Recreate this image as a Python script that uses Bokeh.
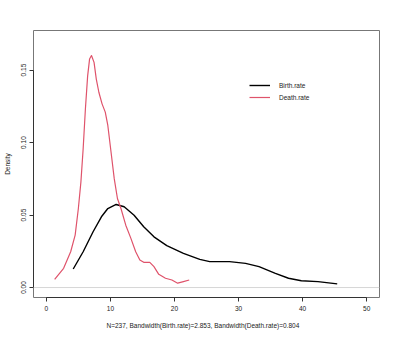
from bokeh.plotting import figure
from bokeh.models import Range1d, FixedTicker, Span, Legend, LegendItem
from bokeh.embed import file_html
from bokeh.resources import INLINE

# Density curves
birth_x = [4.2, 5.75, 7.3, 8.6, 9.6, 10.9, 12.15, 13.7, 15.2, 16.8, 18.8, 21.4,
           23.95, 25.5, 28.6, 31.1, 33.2, 35.75, 37.8, 39.8, 42.4, 45.4]
birth_y = [0.0128, 0.0247, 0.0385, 0.0488, 0.0545, 0.0573, 0.0557, 0.0499, 0.0419,
           0.035, 0.0289, 0.0236, 0.0194, 0.0179, 0.0179, 0.0167, 0.0144, 0.0098,
           0.0064, 0.0047, 0.0041, 0.0025]

death_x = [1.3, 2.7, 3.8, 4.5, 5.0, 5.4, 5.75, 6.1, 6.45, 6.75, 7.05, 7.45, 7.8,
           8.2, 8.7, 9.2, 9.6, 10.1, 10.6, 11.1, 11.65, 12.4, 13.2, 13.95, 14.6,
           15.2, 16.15, 16.8, 17.55, 18.6, 19.6, 20.5, 21.4, 22.3]
death_y = [0.0057, 0.0133, 0.0247, 0.0362, 0.0545, 0.0729, 0.0957, 0.1232, 0.146,
           0.1576, 0.160, 0.1553, 0.1438, 0.1347, 0.1267, 0.121, 0.1118, 0.0935,
           0.0751, 0.0614, 0.0545, 0.043, 0.0339, 0.0247, 0.019, 0.0174, 0.0174,
           0.0144, 0.0091, 0.0064, 0.0052, 0.003, 0.0041, 0.0052]

x_ticks = [0, 10, 20, 30, 40, 50]
y_ticks = [0.0, 0.05, 0.10, 0.15]
y_tick_labels = ["0.00", "0.05", "0.10", "0.15"]
series_names = ["Birth.rate", "Death.rate"]
x_label = "N=237,   Bandwidth(Birth.rate)=2.853,   Bandwidth(Death.rate)=0.804"
y_label = "Density"

FONT = "Liberation Sans"
FS = "6.5px"

p = figure(width=384, height=331, output_backend="svg", toolbar_location=None,
           x_range=Range1d(-2, 52), y_range=Range1d(-0.00687, 0.1773),
           min_border_left=28, min_border_top=30, min_border_right=5,
           min_border_bottom=33)
p.grid.visible = False
p.outline_line_color = "#777777"
p.outline_line_width = 1
p.background_fill_color = "white"
p.border_fill_color = "white"

p.add_layout(Span(location=0, dimension="width", line_color="#d6d6d6", line_width=1))

r_birth = p.line(birth_x, birth_y, line_color="black", line_width=1.4,
                 line_join="round")
r_death = p.line(death_x, death_y, line_color="#DF536B", line_width=1.2,
                 line_join="round")

for ax in (p.xaxis[0], p.yaxis[0]):
    ax.major_tick_out = 4
    ax.major_tick_in = 0
    ax.minor_tick_line_color = None
    ax.axis_line_color = "#333333"
    ax.major_tick_line_color = "#333333"
    ax.major_label_text_font = FONT
    ax.major_label_text_font_size = FS
    ax.major_label_text_color = "#222222"
    ax.axis_label_text_font = FONT
    ax.axis_label_text_font_size = FS
    ax.axis_label_text_font_style = "normal"
    ax.axis_label_text_color = "#222222"

p.xaxis.ticker = FixedTicker(ticks=x_ticks)
p.xaxis.bounds = (x_ticks[0], x_ticks[-1])
p.xaxis.major_label_standoff = 4
p.xaxis.axis_label = x_label
p.xaxis.axis_label_standoff = 8

p.yaxis.ticker = FixedTicker(ticks=y_ticks)
p.yaxis.bounds = (y_ticks[0], y_ticks[-1])
p.yaxis.major_label_overrides = {t: l for t, l in zip(y_ticks, y_tick_labels)}
p.yaxis.major_label_orientation = "vertical"
p.yaxis.major_label_standoff = 3
p.yaxis.axis_label = y_label
p.yaxis.axis_label_standoff = 8

legend = Legend(items=[LegendItem(label=series_names[0], renderers=[r_birth]),
                       LegendItem(label=series_names[1], renderers=[r_death])],
                location=(216, 194), border_line_color=None,
                background_fill_alpha=0, label_text_font=FONT,
                label_text_font_size=FS, label_text_color="#222222",
                glyph_width=21, glyph_height=12, label_height=12,
                label_standoff=9, spacing=0, padding=0, margin=0)
p.add_layout(legend)

open("out.html", "w").write(file_html(p, INLINE))
